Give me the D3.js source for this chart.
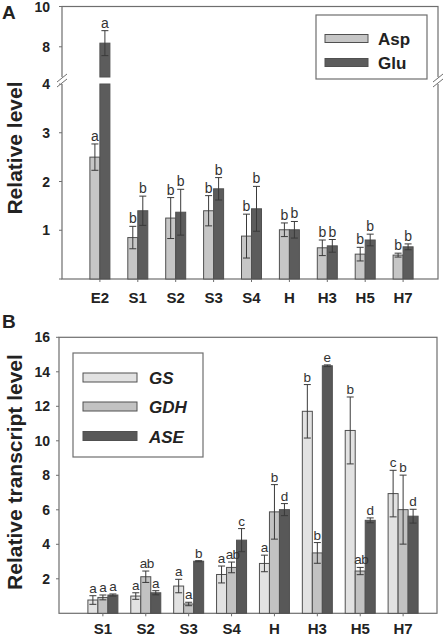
<!DOCTYPE html>
<html><head><meta charset="utf-8">
<script src="https://cdn.jsdelivr.net/npm/d3@7/dist/d3.min.js"></script>
<style>body{margin:0;background:#fff}svg{display:block;font-family:"Liberation Sans",Arial,sans-serif}</style>
</head><body><svg id="c" width="448" height="636"></svg>
<script>
// ---- Panel A data ----
const catsA = ["E2","S1","S2","S3","S4","H","H3","H5","H7"];
const asp = [2.5,0.85,1.25,1.40,0.88,1.01,0.64,0.51,0.49];
const aspErr = [0.27,0.23,0.42,0.31,0.45,0.14,0.16,0.14,0.04];
const aspLbl = ["a","b","b","b","b","b","b","b","b"];
const glu = [8.18,1.40,1.37,1.85,1.44,1.01,0.68,0.80,0.66];
const gluErr = [0.62,0.30,0.47,0.23,0.46,0.17,0.13,0.12,0.06];
const gluLbl = ["a","b","b","b","b","b","b","b","b"];
const ticksALow = [1,2,3,4];
const ticksAHigh = [8,10];
// ---- Panel B data ----
const catsB = ["S1","S2","S3","S4","H","H3","H5","H7"];
const gs = [0.77,1.0,1.58,2.25,2.89,11.71,10.6,6.94];
const gsErr = [0.25,0.19,0.39,0.49,0.48,1.55,1.94,1.35];
const gsLbl = ["a","a","a","a","a","b","b","c"];
const gdh = [0.92,2.12,0.54,2.66,5.88,3.5,2.45,6.01];
const gdhErr = [0.14,0.33,0.10,0.31,1.58,0.6,0.21,2.0];
const gdhLbl = ["a","ab","a","ab","b","b","ab","b"];
const ase = [1.06,1.19,3.02,4.24,6.01,14.35,5.39,5.63];
const aseErr = [0.06,0.12,0.03,0.67,0.35,0.05,0.14,0.40];
const aseLbl = ["a","a","b","c","d","e","d","d"];
const ticksB = [2,4,6,8,10,12,14,16];

const svg = d3.select("#c");
const frameCol = "#6e6e6e", barStroke = "#505050", errCol = "#3a3a3a";
const colAsp = "#c6c6c6", colGlu = "#5c5c5c";
const colGS = "#e2e2e2", colGDH = "#c2c2c2", colASE = "#585858";

// ================= Panel A =================
const aL = 62, aR = 438, aT = 6.5, aB = 279;
const xA = d3.scaleLinear().domain([0,10]).range([aL, 441]);
const yLow = d3.scaleLinear().domain([0,4]).range([aB, 84]);
const yHigh = d3.scaleLinear().domain([6.5,10]).range([77, aT]);
const brk = 4;
function yA(v){ return v <= brk ? yLow(v) : yHigh(v); }

const gA = svg.append("g");
gA.append("rect").attr("x",aL).attr("y",aT).attr("width",aR-aL).attr("height",aB-aT)
  .attr("fill","none").attr("stroke",frameCol).attr("stroke-width",1.2);
const gAbars = gA.append("g"), gAlbl = gA.append("g");

function drawBarA(v, e, lbl, x0, w, fill){
  if (v <= brk) {
    gAbars.append("rect").attr("x",x0).attr("y",yLow(v)).attr("width",w).attr("height",yLow(0)-yLow(v))
      .attr("fill",fill).attr("stroke",barStroke).attr("stroke-width",1);
  } else {
    gAbars.append("rect").attr("x",x0).attr("y",yLow(brk)).attr("width",w).attr("height",yLow(0)-yLow(brk))
      .attr("fill",fill).attr("stroke",barStroke).attr("stroke-width",1);
    gAbars.append("rect").attr("x",x0).attr("y",yHigh(v)).attr("width",w).attr("height",yHigh(6.5)-yHigh(v))
      .attr("fill",fill).attr("stroke",barStroke).attr("stroke-width",1);
  }
  const cx = x0 + w/2;
  const yt = yA(v+e), yb = yA(v-e);
  gAbars.append("line").attr("x1",cx).attr("x2",cx).attr("y1",yt).attr("y2",yb).attr("stroke",errCol).attr("stroke-width",1);
  [yt,yb].forEach(yy=>gAbars.append("line").attr("x1",cx-3.5).attr("x2",cx+3.5).attr("y1",yy).attr("y2",yy).attr("stroke",errCol).attr("stroke-width",1));
  gAlbl.append("text").attr("x",cx).attr("y",yt-3).attr("text-anchor","middle")
    .attr("font-size",14).attr("fill","#333").text(lbl);
}
catsA.forEach((c,i)=>{
  const cx = xA(i+1);
  drawBarA(asp[i], aspErr[i], aspLbl[i], cx-10, 10, colAsp);
  drawBarA(glu[i], gluErr[i], gluLbl[i], cx, 10, colGlu);
});
ticksALow.forEach(t=>{
  gA.append("line").attr("x1",aL-3).attr("x2",aL).attr("y1",yLow(t)).attr("y2",yLow(t)).attr("stroke",frameCol);
  gA.append("text").attr("x",aL-12).attr("y",yLow(t)+5).attr("text-anchor","end")
    .attr("font-size",14).attr("font-weight","bold").attr("fill","#222").text(t);
});
gA.append("line").attr("x1",aL-3).attr("x2",aL).attr("y1",yLow(0)).attr("y2",yLow(0)).attr("stroke",frameCol);
ticksAHigh.forEach(t=>{
  gA.append("line").attr("x1",aL-3).attr("x2",aL).attr("y1",yHigh(t)).attr("y2",yHigh(t)).attr("stroke",frameCol);
  gA.append("text").attr("x",aL-12).attr("y",yHigh(t)+5).attr("text-anchor","end")
    .attr("font-size",14).attr("font-weight","bold").attr("fill","#222").text(t);
});
[aL, aR].forEach(xx=>{
  gA.append("rect").attr("x",xx-2).attr("y",yHigh(6.5)).attr("width",4).attr("height",yLow(brk)-yHigh(6.5)).attr("fill","#fff");
  [-2.5,2.5].forEach(d=>gA.append("line").attr("x1",xx-5).attr("x2",xx+5).attr("y1",(yHigh(6.5)+yLow(brk))/2+d+4).attr("y2",(yHigh(6.5)+yLow(brk))/2+d-4)
    .attr("stroke",frameCol).attr("stroke-width",1));
});
catsA.forEach((c,i)=>{
  const cx = xA(i+1);
  gA.append("line").attr("x1",cx).attr("x2",cx).attr("y1",aB).attr("y2",aB+3).attr("stroke",frameCol);
  gA.append("text").attr("x",cx).attr("y",303).attr("text-anchor","middle")
    .attr("font-size",15).attr("font-weight","bold").attr("fill","#222").text(c);
});
gA.append("text").attr("transform","translate(22,148) rotate(-90)").attr("text-anchor","middle")
  .attr("font-size",21).attr("font-weight","bold").attr("fill","#222").text("Relative level");
gA.append("text").attr("x",2).attr("y",19).attr("font-size",19).attr("font-weight","bold").attr("fill","#222").text("A");
gA.append("rect").attr("x",316).attr("y",15).attr("width",111).attr("height",64).attr("fill","#fff").attr("stroke",frameCol).attr("stroke-width",1.2);
[["Asp",colAsp,38.5],["Glu",colGlu,62.5]].forEach(([t,c,yy])=>{
  gA.append("rect").attr("x",325).attr("y",yy-4).attr("width",43).attr("height",8).attr("fill",c).attr("stroke",barStroke);
  gA.append("text").attr("x",378).attr("y",yy+6.5).attr("font-size",17).attr("font-weight","bold").attr("fill","#222").text(t);
});

// ================= Panel B =================
const bL = 59, bR = 437, bT = 337.3, bB = 613.3;
const xB = d3.scaleLinear().domain([0,9]).range([60, 446]);
const yB = d3.scaleLinear().domain([0,16]).range([bB, bT]);
const gB = svg.append("g");
gB.append("rect").attr("x",bL).attr("y",bT).attr("width",bR-bL).attr("height",bB-bT)
  .attr("fill","none").attr("stroke",frameCol).attr("stroke-width",1.2);
const gBbars = gB.append("g"), gBlbl = gB.append("g");
function drawBarB(v,e,lbl,x0,w,fill){
  gBbars.append("rect").attr("x",x0).attr("y",yB(v)).attr("width",w).attr("height",yB(0)-yB(v))
    .attr("fill",fill).attr("stroke",barStroke).attr("stroke-width",1);
  const cx = x0+w/2, yt=yB(v+e), yb=yB(v-e);
  gBbars.append("line").attr("x1",cx).attr("x2",cx).attr("y1",yt).attr("y2",yb).attr("stroke",errCol);
  [yt,yb].forEach(yy=>gBbars.append("line").attr("x1",cx-3.5).attr("x2",cx+3.5).attr("y1",yy).attr("y2",yy).attr("stroke",errCol));
  const dx = lbl.length > 1 ? 1 : 0;
  gBlbl.append("text").attr("x",cx+dx).attr("y",yt-3).attr("text-anchor","middle")
    .attr("font-size",13.5).attr("letter-spacing", lbl.length>1 ? -0.6 : 0).attr("fill","#333").text(lbl);
}
catsB.forEach((c,i)=>{
  const cx = xB(i+1);
  drawBarB(gs[i],gsErr[i],gsLbl[i],cx-15,10,colGS);
  drawBarB(gdh[i],gdhErr[i],gdhLbl[i],cx-5,10,colGDH);
  drawBarB(ase[i],aseErr[i],aseLbl[i],cx+5,10,colASE);
  gB.append("line").attr("x1",cx).attr("x2",cx).attr("y1",bB).attr("y2",bB+3).attr("stroke",frameCol);
  gB.append("text").attr("x",cx).attr("y",634).attr("text-anchor","middle")
    .attr("font-size",15).attr("font-weight","bold").attr("fill","#222").text(c);
});
ticksB.forEach(t=>{
  gB.append("line").attr("x1",bL-3).attr("x2",bL).attr("y1",yB(t)).attr("y2",yB(t)).attr("stroke",frameCol);
  gB.append("text").attr("x",bL-9).attr("y",yB(t)+5).attr("text-anchor","end")
    .attr("font-size",14).attr("font-weight","bold").attr("fill","#222").text(t);
});
gB.append("text").attr("transform","translate(22,472) rotate(-90)").attr("text-anchor","middle")
  .attr("font-size",21).attr("font-weight","bold").attr("fill","#222").text("Relative transcript level");
gB.append("text").attr("x",2).attr("y",328).attr("font-size",19).attr("font-weight","bold").attr("fill","#222").text("B");
gB.append("rect").attr("x",73).attr("y",353).attr("width",130).attr("height",104).attr("fill","#fff").attr("stroke",frameCol).attr("stroke-width",1.2);
[["GS",colGS,377.5],["GDH",colGDH,406.5],["ASE",colASE,436]].forEach(([t,c,yy])=>{
  gB.append("rect").attr("x",83).attr("y",yy-4.5).attr("width",54).attr("height",9).attr("fill",c).attr("stroke",barStroke);
  gB.append("text").attr("x",149).attr("y",yy+6.5).attr("font-size",17).attr("font-weight","bold").attr("font-style","italic").attr("fill","#222").text(t);
});
</script></body></html>
